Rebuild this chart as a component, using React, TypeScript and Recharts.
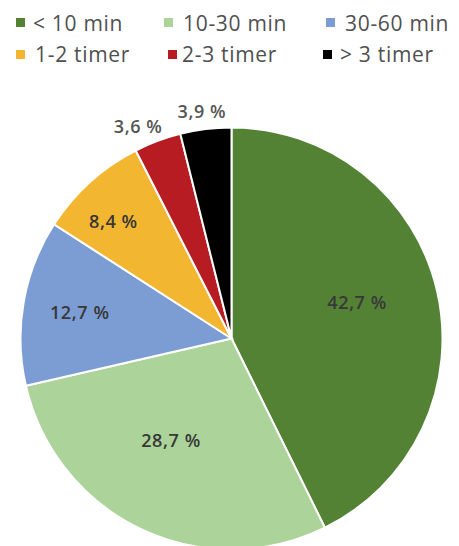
import { PieChart, Pie, Cell } from 'recharts';

const categories = ['< 10 min', '10-30 min', '30-60 min', '1-2 timer', '2-3 timer', '> 3 timer'];
const shares = [42.7, 28.7, 12.7, 8.4, 3.6, 3.9];
const colors = ['#548235', '#abd39a', '#7c9dd3', '#f3b630', '#b71c22', '#000000'];

// label placement: share of the radius, and a small turn (degrees) off the slice middle
const labelRadius = [0.62, 0.56, 0.73, 0.79, 1.1, 1.087];
const labelTurn = [3, -5.4, 0, 3, 3.2, 0.4];

// legend placement: [square x, text x] per item, row centre y
const legendX = [[16, 33], [164, 183], [326, 345], [16, 35], [168, 182], [323, 340]];
const legendRowY = [22.5, 54];

const data = categories.map((name, i) => ({ name, value: shares[i] }));

const fmt = (v: number) => `${v.toFixed(1).replace('.', ',')} %`;

function renderLabel(props: any) {
  const { cx, cy, midAngle, outerRadius, index, value } = props;
  const r = outerRadius * labelRadius[index];
  const rad = (Math.PI / 180) * (midAngle + labelTurn[index]);
  const x = cx + r * Math.cos(rad);
  const y = cy - r * Math.sin(rad);
  const outside = labelRadius[index] > 1;
  return (
    <text
      x={x}
      y={y}
      textAnchor="middle"
      dominantBaseline="central"
      fill={outside ? '#555555' : '#383838'}
      fontSize={18}
      fontWeight={600}
      letterSpacing={0.6}
      fontFamily="'Open Sans', sans-serif"
    >
      {fmt(value)}
    </text>
  );
}

export default function App() {
  return (
    <div style={{ position: 'absolute', left: 0, top: 0, width: 459, height: 546, background: '#fff', overflow: 'hidden' }}>
      {categories.map((c, i) => {
        const [sx, tx] = legendX[i];
        const cy = legendRowY[Math.floor(i / 3)];
        return (
          <div key={c}>
            <span
              style={{ position: 'absolute', left: sx, top: cy - 4.5, width: 9, height: 9, background: colors[i] }}
            />
            <span
              style={{
                position: 'absolute',
                left: tx,
                top: cy - 15,
                lineHeight: '30px',
                fontFamily: "'Open Sans', sans-serif",
                fontSize: 21,
                fontWeight: 500,
                letterSpacing: 0.7,
                color: '#505050',
                whiteSpace: 'nowrap',
              }}
            >
              {c}
            </span>
          </div>
        );
      })}
      <div style={{ position: 'absolute', left: 0, top: 0 }}>
        <PieChart width={459} height={560} margin={{ top: 0, right: 0, bottom: 0, left: 0 }}>
          <Pie
            data={data}
            dataKey="value"
            nameKey="name"
            cx={231.5}
            cy={338.5}
            outerRadius={211}
            startAngle={90}
            endAngle={-270}
            stroke="#ffffff"
            strokeWidth={2}
            label={renderLabel}
            labelLine={false}
            isAnimationActive={false}
          >
            {data.map((d, i) => (
              <Cell key={d.name} fill={colors[i]} />
            ))}
          </Pie>
        </PieChart>
      </div>
    </div>
  );
}
